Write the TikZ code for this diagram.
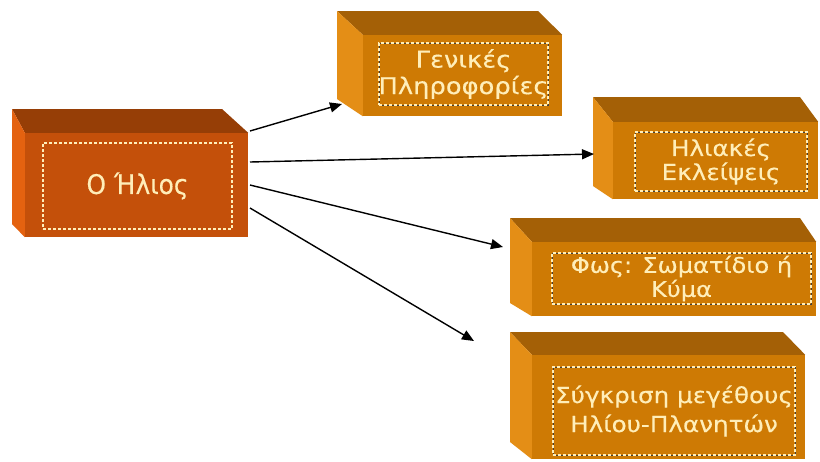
\documentclass[tikz,border=0pt]{standalone}
\usepackage{fontspec}
\setmainfont{DejaVu Sans}
\newfontfamily\centrefont[FakeStretch=0.92,FakeBold=0.3]{DejaVu Sans}
\newfontfamily\topicfont[FakeStretch=1.12,FakeBold=0.3]{DejaVu Sans}
\usetikzlibrary{arrows.meta,fit}

\definecolor{mainfront}{RGB}{196,80,10}
\definecolor{maintop}{RGB}{150,62,6}
\definecolor{mainside}{RGB}{228,98,16}
\definecolor{orfront}{RGB}{206,122,4}
\definecolor{ortop}{RGB}{164,96,6}
\definecolor{orside}{RGB}{228,142,22}
\definecolor{cream}{RGB}{255,238,185}

% #1 name, (#2,#3) front top-left, (#4,#5) front bottom-right,
% #6 back left x, #7 back right x, #8 back top y, #9 side bottom y
\newcommand{\boxthreed}[9]{%
  \coordinate (#1-tl) at (#2,#3);
  \coordinate (#1-br) at (#4,#5);
  \node[fit=(#1-tl)(#1-br), inner sep=0pt, fill=cfront] (#1) {};
  \fill[ctop] (#6,#8) -- (#7,#8) -- (#1.north east) -- (#1.north west) -- cycle;
  \fill[cside] (#6,#8) -- (#1.north west) -- (#1.south west) -- (#6,#9) -- cycle;
}

\tikzset{
  innerframe/.style={inner sep=0pt, draw=cream, line width=1.1pt, dash pattern=on 3pt off 2pt},
  darkframe/.style={inner sep=0pt, draw=black!75, line width=0.9pt},
  boxtext/.style={text=cream, align=center, inner sep=0pt},
  link/.style={line width=1.4pt, -{Triangle[length=12pt,width=10pt]}}
}

\begin{document}
\begin{tikzpicture}[x=1pt,y=-1pt]
\useasboundingbox (0,0) rectangle (820,461);
\fill[white] (0,0) rectangle (820,461);

% central box
\colorlet{cfront}{mainfront}\colorlet{ctop}{maintop}\colorlet{cside}{mainside}
\boxthreed{main}{25}{133}{248}{237}{12}{222}{109}{224}
\coordinate (main-a) at (43,143); \coordinate (main-b) at (232,229);
\node[fit=(main-a)(main-b), innerframe] (main-in) {};
\node[boxtext, font=\centrefont\fontsize{27}{32}\selectfont] (main-t) at (main-in) {Ο Ήλιος};

% topic boxes
\colorlet{cfront}{orfront}\colorlet{ctop}{ortop}\colorlet{cside}{orside}
\boxthreed{gen}{363}{35}{562}{116}{337}{538}{11}{99}
\boxthreed{ecl}{613}{122}{818}{199}{593}{800}{97}{186}
\boxthreed{lig}{532}{242}{816}{316}{510}{800}{218}{303}
\boxthreed{cmp}{532}{355}{805}{459}{510}{783}{332}{442}

\coordinate (gen-a) at (379,43); \coordinate (gen-b) at (548,105);
\coordinate (ecl-a) at (635,132); \coordinate (ecl-b) at (807,191);
\coordinate (lig-a) at (552,253); \coordinate (lig-b) at (811,304);
\coordinate (cmp-a) at (553,367); \coordinate (cmp-b) at (795,455);
\foreach \b in {gen,ecl,lig,cmp}{
  \node[fit=(\b-a)(\b-b), darkframe] {};
  \node[fit=(\b-a)(\b-b), innerframe] (\b-in) {};
}

\node[boxtext, font=\topicfont\fontsize{23}{26.5}\selectfont] (gen-t) at (gen-in) {Γενικές\\Πληροφορίες};
\node[boxtext, font=\topicfont\fontsize{22}{24}\selectfont] (ecl-t) at (ecl-in) {Ηλιακές\\Εκλείψεις};
\node[boxtext, font=\topicfont\fontsize{21.5}{24}\selectfont] (lig-t) at (lig-in) {Φως: Σωματίδιο ή\\Κύμα};
\node[boxtext, font=\topicfont\fontsize{22}{29}\selectfont] (cmp-t) at (cmp-in) {Σύγκριση μεγέθους\\Ηλίου-Πλανητών};

% connectors
\coordinate (s1) at (250,131); \coordinate (e1) at (342,104);
\coordinate (s2) at (250,162); \coordinate (e2) at (594,154);
\coordinate (s3) at (250,185); \coordinate (e3) at (503,247);
\coordinate (s4) at (250,208); \coordinate (e4) at (474,341);
\draw[link] (s1) -- (e1);
\draw[link] (s2) -- (e2);
\draw[link] (s3) -- (e3);
\draw[link] (s4) -- (e4);
\end{tikzpicture}
\end{document}
